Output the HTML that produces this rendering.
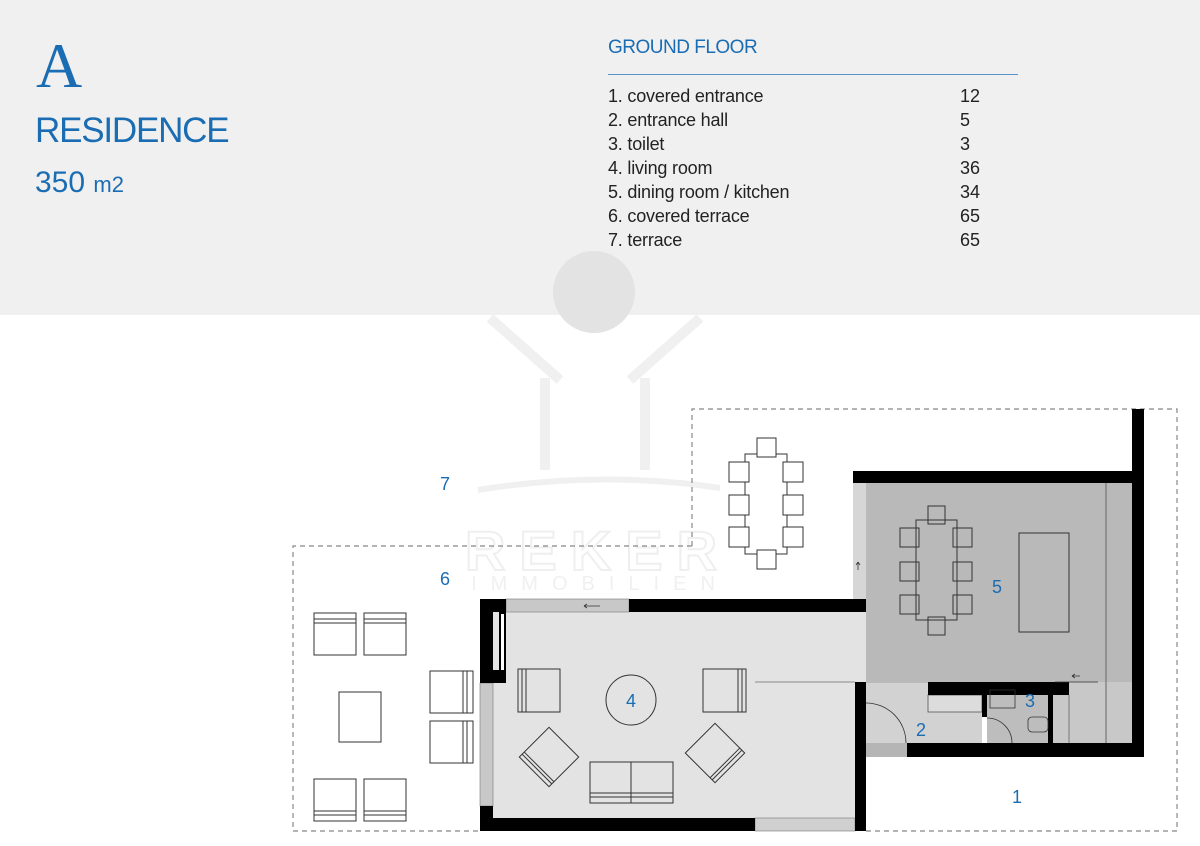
<!DOCTYPE html>
<html><head><meta charset="utf-8"><style>
body{margin:0;width:1200px;height:846px;background:#fff;overflow:hidden;position:relative;font-family:"Liberation Sans",sans-serif}
.hd{position:absolute;left:0;top:0;width:1200px;height:315px;background:#f0f0f0}
.t{position:absolute;color:#1a6db3;white-space:nowrap}
.li{position:absolute;left:608px;font-size:18px;color:#222;white-space:nowrap;letter-spacing:-0.2px}
.n{position:absolute;left:960px;font-size:18px;color:#222}
</style></head><body>
<div class="hd"></div>
<div class="t" style="left:36px;top:34px;font-family:'Liberation Serif',serif;font-size:64px;line-height:64px">A</div>
<div class="t" style="left:35px;top:111px;font-size:35px;line-height:40px;letter-spacing:-1.2px">RESIDENCE</div>
<div class="t" style="left:35px;top:166px;font-size:30px;line-height:34px">350 <span style="font-size:22px">m2</span></div>
<div class="t" style="left:608px;top:37px;font-size:19px;letter-spacing:-0.5px">GROUND FLOOR</div>
<div style="position:absolute;left:608px;top:74px;width:410px;height:1px;background:#5a93c8"></div>
<div class="li" style="top:86px">1. covered entrance</div><div class="n" style="top:86px">12</div>
<div class="li" style="top:110px">2. entrance hall</div><div class="n" style="top:110px">5</div>
<div class="li" style="top:134px">3. toilet</div><div class="n" style="top:134px">3</div>
<div class="li" style="top:158px">4. living room</div><div class="n" style="top:158px">36</div>
<div class="li" style="top:182px">5. dining room / kitchen</div><div class="n" style="top:182px">34</div>
<div class="li" style="top:206px">6. covered terrace</div><div class="n" style="top:206px">65</div>
<div class="li" style="top:230px">7. terrace</div><div class="n" style="top:230px">65</div>
<svg width="1200" height="846" style="position:absolute;left:0;top:0" font-family="Liberation Sans, sans-serif">
<!-- watermark -->
<circle cx="594" cy="292" r="41" fill="#e3e3e3"/>
<g stroke="#f0f0f0" stroke-width="10" fill="none">
<path d="M490 318 L560 380 M700 318 L630 380 M545 378 V470 M645 378 V470"/>
<path d="M478 490 Q600 470 720 488" stroke-width="6"/>
</g>
<text x="598" y="570" text-anchor="middle" font-size="56" font-weight="bold" fill="none" stroke="#efefef" stroke-width="2" letter-spacing="14">REKER</text>
<text x="600" y="590" text-anchor="middle" font-size="20" fill="#f0f0f0" letter-spacing="14">IMMOBILIEN</text>
<!-- dashed outlines -->
<g stroke="#888" stroke-width="1.2" stroke-dasharray="5,4" fill="none">
<path d="M692 546 V409 H1177 V831 H866"/>
<path d="M692 546 H293 V831 H480"/>
</g>
<!-- kitchen -->
<rect x="866" y="483" width="266" height="200" fill="#b9b9b9"/>
<rect x="853" y="483" width="13" height="117" fill="#d6d6d6"/>
<!-- living -->
<rect x="493" y="612" width="362" height="206" fill="#e3e3e3"/>
<rect x="855" y="612" width="11" height="70" fill="#e3e3e3"/>
<!-- hall/toilet -->
<rect x="866" y="683" width="116" height="60" fill="#d2d2d2"/>
<rect x="987" y="695" width="61" height="48" fill="#bdbdbd"/>
<rect x="1053" y="682" width="79" height="61" fill="#c8c8c8"/>
<line x1="1106" y1="483" x2="1106" y2="743" stroke="#666"/>
<line x1="1069" y1="695" x2="1069" y2="743" stroke="#777"/>
<rect x="928" y="695" width="54" height="17" fill="#dcdcdc" stroke="#555" stroke-width="0.8"/>
<rect x="866" y="743" width="41" height="14" fill="#b5b5b5"/>
<!-- windows -->
<rect x="506" y="599" width="123" height="13" fill="#c8c8c8" stroke="#777" stroke-width="0.6"/>
<rect x="480" y="683" width="13" height="123" fill="#c8c8c8" stroke="#777" stroke-width="0.6"/>
<rect x="755" y="818" width="100" height="13" fill="#d0d0d0" stroke="#777" stroke-width="0.6"/>
<!-- walls -->
<g fill="#000">
<rect x="480" y="599" width="26" height="13"/>
<rect x="480" y="599" width="13" height="84"/>
<rect x="480" y="670" width="26" height="13"/>
<rect x="499" y="612" width="7" height="60"/>
<rect x="629" y="599" width="237" height="13"/>
<rect x="480" y="806" width="13" height="25"/>
<rect x="480" y="818" width="275" height="13"/>
<rect x="855" y="682" width="11" height="149"/>
<rect x="853" y="471" width="291" height="12"/>
<rect x="1132" y="409" width="12" height="348"/>
<rect x="907" y="743" width="237" height="14"/>
<rect x="928" y="682" width="141" height="13"/>
<rect x="982" y="682" width="5" height="35"/>
<rect x="1048" y="682" width="5" height="61"/>
</g>
<rect x="501" y="614" width="3" height="56" fill="#fff"/>
<line x1="755" y1="682" x2="855" y2="682" stroke="#888"/>
<!-- doors -->
<g fill="none" stroke="#333" stroke-width="0.8">
<path d="M866 703 A40 40 0 0 1 906 743"/>
<path d="M987 718 A25 25 0 0 1 1012 743"/>
<path d="M1055 682 H1098 M1072 676 H1080 M1072 676 l3 -2 M1072 676 l3 2"/>
<path d="M584 606 H600 M584 606 l3 -2 M584 606 l3 2"/>
<path d="M858 562 V570 M858 562 l-2 3 M858 562 l2 3"/>
<rect x="990" y="690" width="25" height="18"/>
<rect x="1028" y="717" width="20" height="15" rx="4"/>
</g>
<!-- kitchen furniture -->
<g fill="none" stroke="#333" stroke-width="1">
<rect x="916" y="520" width="41" height="100"/>
<rect x="1019" y="533" width="50" height="99"/>
<rect x="900" y="528" width="19" height="19"/><rect x="900" y="562" width="19" height="19"/><rect x="900" y="595" width="19" height="19"/>
<rect x="953" y="528" width="19" height="19"/><rect x="953" y="562" width="19" height="19"/><rect x="953" y="595" width="19" height="19"/>
<rect x="928" y="506" width="17" height="18"/><rect x="928" y="617" width="17" height="18"/>
</g>
<!-- outdoor dining -->
<g fill="#fff" stroke="#333" stroke-width="1">
<rect x="745" y="454" width="42" height="100"/>
<rect x="729" y="462" width="20" height="20"/><rect x="729" y="495" width="20" height="20"/><rect x="729" y="527" width="20" height="20"/>
<rect x="783" y="462" width="20" height="20"/><rect x="783" y="495" width="20" height="20"/><rect x="783" y="527" width="20" height="20"/>
<rect x="757" y="438" width="19" height="19"/><rect x="757" y="550" width="19" height="19"/>
</g>
<!-- living furniture -->
<g fill="none" stroke="#333" stroke-width="1">
<circle cx="631" cy="700" r="25"/>
<rect x="518" y="669" width="42" height="43"/><path d="M522 669 V712 M526 669 V712"/>
<rect x="703" y="669" width="43" height="43"/><path d="M738 669 V712 M742 669 V712"/>
<rect x="590" y="762" width="83" height="41"/><path d="M631 762 V803 M590 793 H673 M590 797 H673"/>
<g transform="translate(549 757) rotate(45)"><rect x="-21" y="-21" width="42" height="42"/><path d="M-21 14 H21 M-21 17 H21"/></g>
<g transform="translate(715 753) rotate(-45)"><rect x="-21" y="-21" width="42" height="42"/><path d="M-21 14 H21 M-21 17 H21"/></g>
<!-- outdoor lounge -->
<rect x="314" y="613" width="42" height="42"/><path d="M314 619 H356 M314 623 H356"/>
<rect x="364" y="613" width="42" height="42"/><path d="M364 619 H406 M364 623 H406"/>
<rect x="314" y="779" width="42" height="42"/><path d="M314 811 H356 M314 815 H356"/>
<rect x="364" y="779" width="42" height="42"/><path d="M364 811 H406 M364 815 H406"/>
<rect x="339" y="692" width="42" height="50"/>
<rect x="430" y="671" width="43" height="42"/><path d="M463 671 V713 M467 671 V713"/>
<rect x="430" y="721" width="43" height="42"/><path d="M463 721 V763 M467 721 V763"/>
</g>
<g fill="#1a6db3" font-size="18" text-anchor="middle">
<text x="631" y="707">4</text><text x="997" y="593">5</text><text x="1030" y="707">3</text>
<text x="921" y="736">2</text><text x="1017" y="803">1</text><text x="445" y="585">6</text><text x="445" y="490">7</text>
</g>
</svg>
</body></html>
